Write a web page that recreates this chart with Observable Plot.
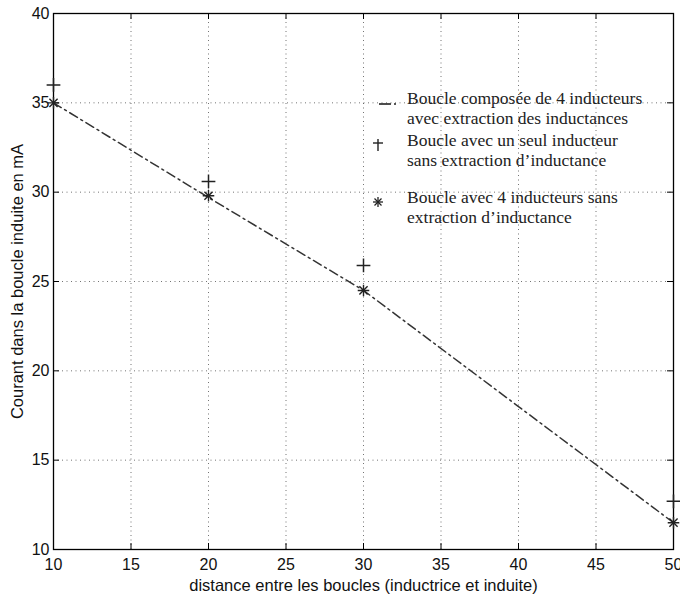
<!DOCTYPE html>
<html>
<head>
<meta charset="utf-8">
<script src="https://cdn.jsdelivr.net/npm/d3@7"></script>
<script src="https://cdn.jsdelivr.net/npm/@observablehq/plot@0.6"></script>
<style>
  html, body { margin: 0; padding: 0; background: #fff; }
  #wrap { position: relative; width: 680px; height: 595px; }
  #legend { position: absolute; left: 0; top: 0; font-family: "Liberation Serif", "Times New Roman", serif; font-size: 17.5px; color: #222; }
  .entry { position: absolute; line-height: 20px; white-space: nowrap; }
  .sym { position: absolute; }
</style>
</head>
<body>
<div id="wrap"><div id="legend"></div></div>
<script>
// ---- data ----
const xTicks = [10, 15, 20, 25, 30, 35, 40, 45, 50];
const yTicks = [10, 15, 20, 25, 30, 35, 40];

// Boucle composée de 4 inducteurs avec extraction des inductances (dash-dot line)
const distLine = [10, 20, 30, 40, 50];
const courantLine = [35.0, 29.7, 24.5, 18.0, 11.5];

// Boucle avec un seul inducteur sans extraction d'inductance (+)
const distSeul = [10, 20, 30, 50];
const courantSeul = [36.0, 30.6, 25.9, 12.7];

// Boucle avec 4 inducteurs sans extraction d'inductance (*)
const distQuatre = [10, 20, 30, 50];
const courantQuatre = [35.0, 29.8, 24.5, 11.5];

const xLabel = "distance entre les boucles (inductrice et induite)";
const yLabel = "Courant dans la boucle induite en mA";
const legendLabels = [
  ["Boucle  composée de 4 inducteurs", "avec extraction des inductances"],
  ["Boucle avec un seul inducteur", "sans extraction d\u2019inductance"],
  ["Boucle avec 4 inducteurs sans", "extraction d\u2019inductance"]
];

const lineData = distLine.map((d, i) => ({x: d, y: courantLine[i]}));
const seulData = distSeul.map((d, i) => ({x: d, y: courantSeul[i]}));
const quatreData = distQuatre.map((d, i) => ({x: d, y: courantQuatre[i]}));

const W = 680, H = 595, ML = 53, MR = 7, MT = 13, MB = 46;
const innerW = W - ML - MR, innerH = H - MT - MB;
const tk = 6;

const chart = Plot.plot({
  width: W, height: H,
  marginLeft: ML, marginRight: MR, marginTop: MT, marginBottom: MB,
  x: {domain: [10, 50]},
  y: {domain: [10, 40]},
  style: {fontFamily: "'Liberation Sans', Arial, sans-serif", fontSize: "16px", color: "#111", background: "#fff", overflow: "visible"},
  marks: [
    Plot.gridX(xTicks, {stroke: "#000", strokeOpacity: 0.55, strokeDasharray: "1,3.5", strokeWidth: 1}),
    Plot.gridY(yTicks, {stroke: "#000", strokeOpacity: 0.55, strokeDasharray: "1,3.5", strokeWidth: 1}),
    Plot.axisX(xTicks, {tickSize: 0, tickPadding: 9, fontSize: 16, label: null}),
    Plot.axisX({tickSize: 0, ticks: [], label: xLabel, labelAnchor: "center", labelArrow: "none", labelOffset: 41, fontSize: 16.5}),
    Plot.axisY(yTicks, {tickSize: 0, tickPadding: 4, fontSize: 16, label: null}),
    Plot.axisY({tickSize: 0, ticks: [], label: yLabel, labelAnchor: "center", labelArrow: "none", labelOffset: 42, fontSize: 16.5}),
    Plot.tickX(xTicks, {x: d => d, insetTop: innerH - tk, stroke: "#000"}),
    Plot.tickX(xTicks, {x: d => d, insetBottom: innerH - tk, stroke: "#000"}),
    Plot.tickY(yTicks, {y: d => d, insetRight: innerW - tk, stroke: "#000"}),
    Plot.tickY(yTicks, {y: d => d, insetLeft: innerW - tk, stroke: "#000"}),
    Plot.frame({stroke: "#000", strokeWidth: 1.3}),
    Plot.line(lineData, {x: "x", y: "y", stroke: "#333", strokeWidth: 1.5, strokeDasharray: "9,4,2,4"}),
    Plot.dot(seulData, {x: "x", y: "y", symbol: "plus", r: 4.5, stroke: "#222", strokeWidth: 1.5, clip: false}),
    Plot.dot(quatreData, {x: "x", y: "y", symbol: "plus", r: 3.8, stroke: "#222", strokeWidth: 1.4, clip: false}),
    Plot.dot(quatreData, {x: "x", y: "y", symbol: "times", r: 3.8, stroke: "#222", strokeWidth: 1.4, clip: false})
  ]
});
document.getElementById("wrap").prepend(chart);

// ---- legend overlay ----
const legend = document.getElementById("legend");
const entryTops = [88, 130, 187];
const symbols = [
  `<svg width="22" height="10"><line x1="2" y1="5" x2="14" y2="5" stroke="#222" stroke-width="1.6"/><line x1="17" y1="5" x2="19" y2="5" stroke="#222" stroke-width="1.6"/></svg>`,
  `<svg width="12" height="14"><line x1="6" y1="1" x2="6" y2="13" stroke="#222" stroke-width="1.4"/><line x1="1" y1="5" x2="11" y2="5" stroke="#222" stroke-width="1.4"/></svg>`,
  `<svg width="12" height="12"><line x1="6" y1="1" x2="6" y2="11" stroke="#222" stroke-width="1.3"/><line x1="1" y1="6" x2="11" y2="6" stroke="#222" stroke-width="1.3"/><line x1="2.5" y1="2.5" x2="9.5" y2="9.5" stroke="#222" stroke-width="1.3"/><line x1="9.5" y1="2.5" x2="2.5" y2="9.5" stroke="#222" stroke-width="1.3"/></svg>`
];
const symPos = [[377, 93], [372, 136], [372, 192]];
legendLabels.forEach((lines, i) => {
  const e = document.createElement("div");
  e.className = "entry";
  e.style.left = "407px";
  e.style.top = entryTops[i] + "px";
  e.innerHTML = lines.join("<br>");
  legend.appendChild(e);
  const s = document.createElement("div");
  s.className = "sym";
  s.style.left = symPos[i][0] + "px";
  s.style.top = symPos[i][1] + "px";
  s.innerHTML = symbols[i];
  legend.appendChild(s);
});
</script>
</body>
</html>
